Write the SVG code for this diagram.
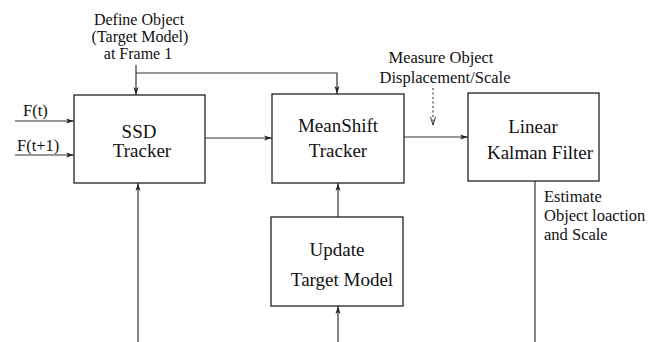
<svg xmlns="http://www.w3.org/2000/svg" width="662" height="342" viewBox="0 0 662 342">
<style>
text{font-family:"Liberation Serif","Times New Roman",serif;fill:#111}
.big{font-size:19px}
.sm{font-size:16.5px}
.def{font-size:16px}
.box{fill:#fff;stroke:#222;stroke-width:1.3}
.ln{fill:none;stroke:#333;stroke-width:1.2}
.dot{fill:none;stroke:#333;stroke-width:1.1;stroke-dasharray:2 2.5}
</style>
<defs>
<marker id="ah" viewBox="0 0 8 6" refX="8" refY="3" markerWidth="8" markerHeight="6" markerUnits="userSpaceOnUse" orient="auto">
<path d="M0,0.5 L8,3 L0,5.5 L2,3 Z" fill="#222"/>
</marker>
<marker id="av" viewBox="0 0 8 6" refX="8" refY="3" markerWidth="8" markerHeight="6" markerUnits="userSpaceOnUse" orient="auto">
<path d="M0,0.5 L8,3 L0,5.5" fill="none" stroke="#333" stroke-width="1"/>
</marker>
</defs>
<g id="connectors">
<line class="ln" x1="15" y1="121" x2="74" y2="121" marker-end="url(#ah)"/>
<line class="ln" x1="15" y1="155" x2="74" y2="155" marker-end="url(#ah)"/>
<line class="ln" x1="136" y1="65" x2="136" y2="95" marker-end="url(#ah)"/>
<polyline class="ln" points="136,73 337,73 337,94" marker-end="url(#ah)"/>
<line class="ln" x1="205" y1="138" x2="272" y2="138" marker-end="url(#ah)"/>
<line class="ln" x1="404" y1="137" x2="468" y2="137" marker-end="url(#ah)"/>
<line class="dot" x1="433" y1="88" x2="433" y2="125" marker-end="url(#av)"/>
<line class="ln" x1="535" y1="181" x2="535" y2="342"/>
<line class="ln" x1="138" y1="342" x2="138" y2="183" marker-end="url(#ah)"/>
<line class="ln" x1="338" y1="217" x2="338" y2="183" marker-end="url(#ah)"/>
<line class="ln" x1="338" y1="342" x2="338" y2="306" marker-end="url(#ah)"/>
</g>
<g id="labels">
<text class="def" text-anchor="middle" x="139" y="25">Define Object</text>
<text class="def" text-anchor="middle" x="140" y="41.5">(Target Model)</text>
<text class="def" text-anchor="middle" x="138" y="59">at Frame 1</text>
<text class="sm" x="23" y="116">F(t)</text>
<text class="sm" x="17" y="151">F(t+1)</text>
<text class="sm" text-anchor="middle" x="441" y="63">Measure Object</text>
<text class="sm" text-anchor="middle" x="445" y="83">Displacement/Scale</text>
<text class="sm" x="544" y="202">Estimate</text>
<text class="sm" x="544" y="221">Object loaction</text>
<text class="sm" x="544" y="240">and Scale</text>
</g>
<g id="ssd">
<rect class="box" x="74" y="95" width="131" height="88"/>
<text class="big" text-anchor="middle" x="139" y="138">SSD</text>
<text class="big" text-anchor="middle" x="142" y="157">Tracker</text>
</g>
<g id="meanshift">
<rect class="box" x="272" y="94" width="132" height="89"/>
<text class="big" text-anchor="middle" x="338" y="132">MeanShift</text>
<text class="big" text-anchor="middle" x="338" y="157">Tracker</text>
</g>
<g id="kalman">
<rect class="box" x="468" y="93" width="131" height="88"/>
<text class="big" text-anchor="middle" x="533" y="133">Linear</text>
<text class="big" text-anchor="middle" x="540" y="159">Kalman Filter</text>
</g>
<g id="update">
<rect class="box" x="271" y="217" width="132" height="89"/>
<text class="big" text-anchor="middle" x="337" y="256">Update</text>
<text class="big" text-anchor="middle" x="342" y="286">Target Model</text>
</g>
</svg>
